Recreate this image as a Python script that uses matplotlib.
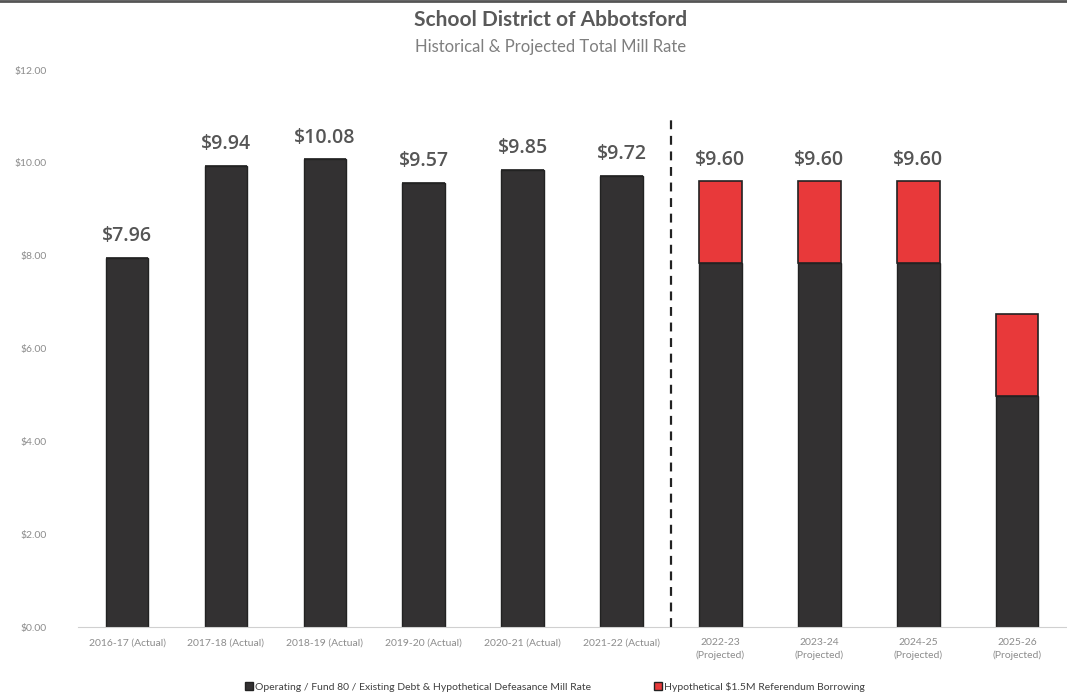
import matplotlib
matplotlib.use("Agg")
import matplotlib.pyplot as plt
from matplotlib.ticker import FuncFormatter
from matplotlib.patches import Patch

# Data
categories = [
    "2016-17 (Actual)", "2017-18 (Actual)", "2018-19 (Actual)",
    "2019-20 (Actual)", "2020-21 (Actual)", "2021-22 (Actual)",
    "2022-23\n(Projected)", "2023-24\n(Projected)", "2024-25\n(Projected)",
    "2025-26\n(Projected)",
]
operating = [7.96, 9.94, 10.08, 9.57, 9.85, 9.72, 7.84, 7.84, 7.84, 4.98]
referendum = [0, 0, 0, 0, 0, 0, 1.76, 1.76, 1.76, 1.76]
total_labels = [7.96, 9.94, 10.08, 9.57, 9.85, 9.72, 9.60, 9.60, 9.60, None]

DARK = "#333132"
RED = "#E8393A"
TEXT = "#595959"
TICK = "#8c8c8c"

plt.rcParams["font.family"] = ["Lato", "DejaVu Sans"]

fig = plt.figure(figsize=(10.67, 6.98), dpi=100)
ax = fig.add_axes([0.0727, 0.1017, 0.927, 0.798])

x = list(range(len(categories)))
ax.bar(x, operating, width=0.43, color=DARK, edgecolor="#222222", linewidth=1, zorder=2)
ax.bar(x, referendum, width=0.43, bottom=operating, color=RED,
       edgecolor="#222222", linewidth=1.2, zorder=2)

for i, v in enumerate(total_labels):
    if v is None:
        continue
    ax.text(i, v + 0.25, f"\\${v:.2f}", ha="center", va="bottom",
            fontsize=14, color="#555555", fontweight="semibold",
            family=["Open Sans", "DejaVu Sans"])

# dashed separator between actual and projected
ax.plot([5.5, 5.5], [0, 10.97], ls=(0, (4, 3)), color="#222222", lw=1.6, zorder=3)

ax.set_xlim(-0.5, 9.5)
ax.set_ylim(0, 12)
ax.set_yticks([0, 2, 4, 6, 8, 10, 12])
ax.yaxis.set_major_formatter(FuncFormatter(lambda v, p: f"\\${v:.2f}"))
ax.set_xticks(x)
ax.set_xticklabels(categories, fontsize=7.5, color=TICK, linespacing=1.4)
ax.tick_params(axis="y", labelsize=7.5, labelcolor=TICK, length=0, pad=22)
ax.tick_params(axis="x", length=0, pad=8)

for side in ["top", "right", "left"]:
    ax.spines[side].set_visible(False)
ax.spines["bottom"].set_color("#d0d0d0")

fig.text(0.516, 0.972, "School District of Abbotsford", ha="center", va="center",
         fontsize=15, color=TEXT, fontweight="bold")
fig.text(0.516, 0.933, "Historical & Projected Total Mill Rate", ha="center",
         va="center", fontsize=12, color="#7f7f7f")

handles = [
    Patch(facecolor=DARK, edgecolor="#222222"),
    Patch(facecolor=RED, edgecolor="#222222"),
]
labels = [
    "Operating / Fund 80 / Existing Debt & Hypothetical Defeasance Mill Rate",
    "Hypothetical \\$1.5M Referendum Borrowing",
]
fig.legend(handles, labels, loc="center", bbox_to_anchor=(0.52, 0.016), ncol=2,
           frameon=False, fontsize=7.5, labelcolor="#404040", handlelength=0.8,
           handleheight=0.8, handletextpad=0.2, columnspacing=6)

# thin frame line at top, as in the screenshot
fig.add_artist(plt.Line2D([0, 1], [0.998, 0.998], color="#555555", lw=2,
                          transform=fig.transFigure))

fig.savefig("out.png", dpi=100)
